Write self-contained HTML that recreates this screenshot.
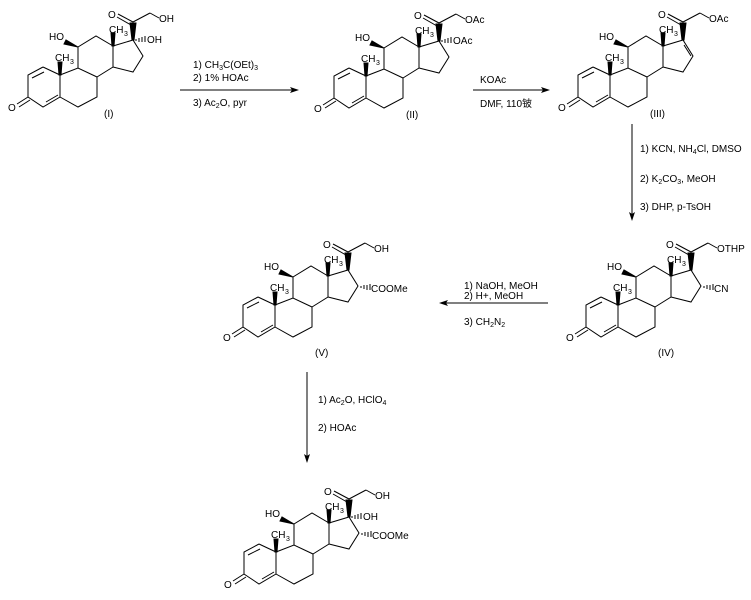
<!DOCTYPE html>
<html><head><meta charset="utf-8"><style>
html,body{margin:0;padding:0;background:#fff;}
svg{display:block;}
text{font-family:"Liberation Sans","Noto Sans CJK SC",sans-serif;font-size:10px;fill:#000;}
.s{font-size:7px;}
</style></head><body>
<svg width="751" height="600" viewBox="0 0 751 600" xmlns="http://www.w3.org/2000/svg">
<defs>
<g id="sk" stroke="#000" stroke-width="1" fill="none">
<polyline points="43,67 28,75 28,97 43,107 60,97 60,75 43,67"/>
<line x1="32" y1="78" x2="44" y2="72"/>
<line x1="46" y1="102" x2="58" y2="95"/>
<line x1="28" y1="97" x2="17" y2="104"/>
<line x1="30" y1="100" x2="19" y2="107"/>
<polyline points="60,75 78,68 97,77 97,97 78,107 60,97"/>
<polyline points="78,68 78,47 96,36 113,46 113,67 97,77"/>
<polyline points="113,46 133,40 143,56 133,72 113,67"/>
<polygon points="59,75 61,75 62,62 58,62" fill="#000"/>
<polygon points="78,47 66,40 64,44" fill="#000"/>
<polygon points="112,46 114,46 115,33 111,33" fill="#000"/>
<polygon points="132,40 134,40 136,23 130,23" fill="#000"/>
<line x1="133" y1="22" x2="118" y2="14"/>
<line x1="131" y1="25" x2="117" y2="17"/>
<line x1="133" y1="22" x2="150" y2="13"/>
<line x1="150" y1="13" x2="159" y2="18"/>
</g>
<g id="h17" stroke="#000" stroke-width="1">
<line x1="136" y1="39" x2="136" y2="41"/><line x1="139" y1="38" x2="139" y2="42"/><line x1="142" y1="37" x2="142" y2="42"/><line x1="145" y1="36" x2="145" y2="42"/>
</g>
<g id="h16" stroke="#000" stroke-width="1">
<line x1="146" y1="56" x2="146" y2="58"/><line x1="149" y1="55" x2="149" y2="59"/><line x1="152" y1="55" x2="152" y2="60"/><line x1="155" y1="54" x2="155" y2="60"/>
</g>
<g id="lab">
<text x="8" y="111">O</text>
<text x="49" y="40">HO</text>
<text x="55" y="61">CH</text><text x="70" y="64" class="s">3</text>
<text x="109" y="33">CH</text><text x="124" y="36" class="s">3</text>
<text x="108" y="18">O</text>
</g>
</defs>

<!-- I -->
<g transform="translate(0,0)"><use href="#sk"/><use href="#lab"/><use href="#h17"/>
<text x="159" y="22">OH</text><text x="147" y="43">OH</text><text x="104" y="117">(I)</text></g>
<!-- II -->
<g transform="translate(306,1)"><use href="#sk"/><use href="#lab"/><use href="#h17"/>
<text x="159" y="22">OAc</text><text x="147" y="43">OAc</text><text x="100" y="117">(II)</text></g>
<!-- III -->
<g transform="translate(550,0)"><use href="#sk"/><use href="#lab"/>
<line x1="134" y1="45" x2="141" y2="56" stroke="#000"/>
<text x="159" y="22">OAc</text><text x="100" y="117">(III)</text></g>
<!-- IV -->
<g transform="translate(558,230)"><use href="#sk"/><use href="#lab"/><use href="#h16"/>
<text x="159" y="22">OTHP</text><text x="156" y="62">CN</text><text x="100" y="126">(IV)</text></g>
<!-- V -->
<g transform="translate(215,230)"><use href="#sk"/><use href="#lab"/><use href="#h16"/>
<text x="159" y="22">OH</text><text x="156" y="62">COOMe</text><text x="100" y="126">(V)</text></g>
<!-- VI -->
<g transform="translate(216,477)"><use href="#sk"/><use href="#lab"/><use href="#h16"/><use href="#h17"/>
<text x="159" y="22">OH</text><text x="147" y="43">OH</text><text x="156" y="62">COOMe</text></g>

<!-- arrows -->
<g stroke="#000" stroke-width="1">
<line x1="180" y1="90" x2="294" y2="90"/>
<line x1="473" y1="90" x2="545" y2="90"/>
<line x1="632" y1="124" x2="632" y2="216"/>
<line x1="548" y1="303" x2="444" y2="303"/>
<line x1="307" y1="372" x2="307" y2="458"/>
</g>
<g fill="#000">
<polygon points="299,90 290,87 292,90 290,93"/>
<polygon points="550,90 541,87 543,90 541,93"/>
<polygon points="632,221 629,212 632,214 635,212"/>
<polygon points="439,303 448,300 446,303 448,306"/>
<polygon points="307,463 304,454 307,456 310,454"/>
</g>
<text x="193" y="68">1) CH<tspan class="s" dy="2">3</tspan><tspan dy="-2">C(OEt)</tspan><tspan class="s" dy="2">3</tspan></text>
<text x="193" y="81">2) 1% HOAc</text>
<text x="193" y="106">3) Ac<tspan class="s" dy="2">2</tspan><tspan dy="-2">O, pyr</tspan></text>
<text x="480" y="83">KOAc</text>
<text x="480" y="107">DMF, 110铍</text>
<text x="640" y="152">1) KCN, NH<tspan class="s" dy="2">4</tspan><tspan dy="-2">Cl, DMSO</tspan></text>
<text x="640" y="182">2) K<tspan class="s" dy="2">2</tspan><tspan dy="-2">CO</tspan><tspan class="s" dy="2">3</tspan><tspan dy="-2">, MeOH</tspan></text>
<text x="640" y="210">3) DHP, p-TsOH</text>
<text x="464" y="289">1) NaOH, MeOH</text>
<text x="464" y="299">2) H+,  MeOH</text>
<text x="464" y="325">3) CH<tspan class="s" dy="2">2</tspan><tspan dy="-2">N</tspan><tspan class="s" dy="2">2</tspan></text>
<text x="318" y="403">1) Ac<tspan class="s" dy="2">2</tspan><tspan dy="-2">O, HClO</tspan><tspan class="s" dy="2">4</tspan></text>
<text x="318" y="431">2) HOAc</text>
</svg>
</body></html>
